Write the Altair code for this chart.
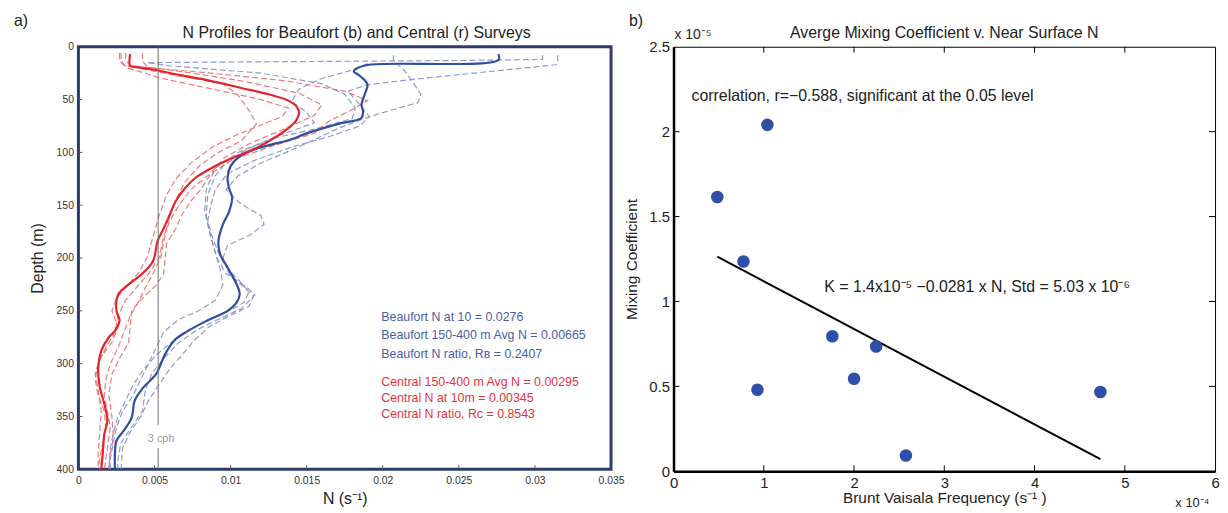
import altair as alt
import pandas as pd

# ---------------- Panel a) : N profiles ----------------
BEAUFORT_MEAN_DEPTH = [7, 12.5, 17, 20.5, 23.5, 26.5, 31.5, 36, 45.5, 55, 61, 67.5, 72.5, 82, 88, 97, 105, 113, 124, 134,
                       143, 156, 168, 184, 196, 209, 225, 234, 242, 250, 259, 269, 278, 291, 310, 322, 335, 351, 363, 373,
                       385, 400]
BEAUFORT_MEAN_N = [0.0276, 0.0276, 0.0191, 0.0183, 0.0181, 0.0184, 0.0188, 0.0190, 0.0188, 0.0186, 0.0187, 0.0186,
                   0.0172, 0.0150, 0.0139, 0.0116, 0.0105, 0.0100, 0.0098, 0.0099, 0.0101, 0.0099, 0.0095, 0.0092,
                   0.0093, 0.0098, 0.0104, 0.0106, 0.0104, 0.0098, 0.0085, 0.0072, 0.0063, 0.0057, 0.0051, 0.0043,
                   0.0037, 0.0035, 0.0030, 0.0025, 0.0024, 0.0024]

CENTRAL_MEAN_DEPTH = [7, 18, 19, 22, 26, 32, 39, 45, 51, 56, 62, 70, 77, 86, 95, 102, 108, 116, 124, 134,
                      146, 159, 172, 184, 203, 216, 225, 235, 250, 259, 269, 275, 288, 304, 322, 338, 354, 367, 385, 400]
CENTRAL_MEAN_N = [0.0034, 0.0034, 0.0038, 0.0051, 0.0064, 0.0086, 0.0107, 0.0125, 0.0138, 0.0143, 0.0145, 0.0143,
                  0.0138, 0.0129, 0.0118, 0.0107, 0.0097, 0.0086, 0.0077, 0.0070, 0.0064, 0.0060, 0.0056, 0.0052,
                  0.0049, 0.0041, 0.0033, 0.0026, 0.0025, 0.0027, 0.0024, 0.0020, 0.0015, 0.0013, 0.0014, 0.0017,
                  0.0019, 0.0017, 0.0016, 0.0015]

# individual casts: (depth m, N s^-1)
BEAUFORT_CASTS = {
    "B1": [(8, 0.0207), (13, 0.0207), (22, 0.0214), (34, 0.0220), (45, 0.0225), (53, 0.0223), (61, 0.0203),
           (67, 0.0190), (77, 0.0171), (86, 0.0158), (99, 0.0138), (110, 0.0120), (122, 0.0105), (135, 0.0097),
           (148, 0.0106), (160, 0.0120), (168, 0.0122), (178, 0.0113), (188, 0.0098), (200, 0.0095), (215, 0.0099),
           (228, 0.0109), (236, 0.0115), (246, 0.0112), (255, 0.0099), (265, 0.0086), (278, 0.0076), (292, 0.0068),
           (305, 0.0060), (320, 0.0053), (335, 0.0046), (350, 0.0041), (365, 0.0034), (380, 0.0029), (400, 0.0028)],
    "B2": [(8, 0.0315), (13, 0.0315), (17, 0.0314), (31, 0.0219), (36, 0.0190), (42, 0.0177), (55, 0.0185),
           (66, 0.0191), (75, 0.0185), (85, 0.0165), (95, 0.0140), (108, 0.0115), (120, 0.0098), (135, 0.0090),
           (150, 0.0087), (165, 0.0085), (180, 0.0088), (195, 0.0092), (210, 0.0098), (222, 0.0106), (232, 0.0112),
           (242, 0.0109), (250, 0.0099), (258, 0.0086), (268, 0.0073), (280, 0.0061), (292, 0.0051), (305, 0.0043),
           (320, 0.0036), (335, 0.0031), (350, 0.0026), (365, 0.0023), (380, 0.0021), (400, 0.0020)],
    "B3": [(8, 0.0305), (12, 0.0305), (13, 0.0250), (15, 0.0045), (18, 0.0060), (25, 0.0120), (35, 0.0160),
           (45, 0.0175), (58, 0.0182), (68, 0.0180), (78, 0.0155), (86, 0.0130), (96, 0.0112), (108, 0.0098),
           (122, 0.0090), (140, 0.0085), (160, 0.0084), (180, 0.0087), (200, 0.0091), (215, 0.0097), (228, 0.0111),
           (235, 0.0116), (248, 0.0107), (258, 0.0092), (268, 0.0078), (280, 0.0066), (295, 0.0056), (310, 0.0048),
           (325, 0.0044), (345, 0.0042), (360, 0.0035), (375, 0.0028), (390, 0.0026), (400, 0.0026)],
    "B4": [(16, 0.0190), (22, 0.0180), (30, 0.0160), (40, 0.0145), (52, 0.0140), (62, 0.0150), (72, 0.0155),
           (85, 0.0130), (100, 0.0105), (115, 0.0090), (135, 0.0084), (155, 0.0083), (175, 0.0086), (195, 0.0090),
           (210, 0.0093), (225, 0.0095), (240, 0.0090), (250, 0.0079), (258, 0.0066), (270, 0.0056), (285, 0.0051),
           (300, 0.0046), (315, 0.0041), (330, 0.0036), (345, 0.0029), (360, 0.0025), (375, 0.0023), (390, 0.0021),
           (400, 0.0021)],
}
CENTRAL_CASTS = {
    "C1": [(6, 0.0027), (13, 0.0027), (18, 0.0030), (24, 0.0080), (32, 0.0135), (42, 0.0175), (51, 0.0190),
           (61, 0.0178), (70, 0.0165), (82, 0.0155), (95, 0.0125), (108, 0.0100), (122, 0.0085), (135, 0.0074),
           (150, 0.0066), (165, 0.0060), (180, 0.0056), (200, 0.0053), (215, 0.0046), (228, 0.0038), (240, 0.0031),
           (255, 0.0026), (270, 0.0024), (285, 0.0018), (300, 0.0013), (315, 0.0011), (330, 0.0013), (345, 0.0017),
           (360, 0.0018), (375, 0.0016), (390, 0.0014), (400, 0.0014)],
    "C2": [(6, 0.0031), (13, 0.0031), (19, 0.0035), (26, 0.0060), (35, 0.0095), (46, 0.0105), (60, 0.0112),
           (73, 0.0117), (89, 0.0107), (100, 0.0092), (112, 0.0080), (128, 0.0070), (145, 0.0064), (165, 0.0059),
           (185, 0.0056), (200, 0.0054), (215, 0.0049), (228, 0.0044), (240, 0.0040), (255, 0.0034), (270, 0.0030),
           (285, 0.0026), (300, 0.0021), (315, 0.0018), (330, 0.0017), (345, 0.0019), (360, 0.0021), (380, 0.0019),
           (400, 0.0017)],
    "C3": [(6, 0.0042), (13, 0.0042), (19, 0.0045), (25, 0.0075), (33, 0.0110), (44, 0.0145), (55, 0.0160),
           (65, 0.0155), (78, 0.0135), (92, 0.0112), (105, 0.0096), (118, 0.0088), (134, 0.0081), (146, 0.0074),
           (159, 0.0068), (172, 0.0064), (186, 0.0058), (200, 0.0057), (215, 0.0056), (226, 0.0051), (238, 0.0042),
           (250, 0.0035), (265, 0.0034), (280, 0.0033), (295, 0.0027), (310, 0.0022), (330, 0.0020), (350, 0.0022),
           (370, 0.0023), (385, 0.0021), (400, 0.0020)],
    "C4": [(6, 0.0028), (13, 0.0028), (20, 0.0032), (30, 0.0055), (40, 0.0088), (50, 0.0120), (58, 0.0138),
           (66, 0.0134), (74, 0.0120), (84, 0.0103), (95, 0.0088), (110, 0.0074), (125, 0.0064), (140, 0.0058),
           (160, 0.0053), (180, 0.0049), (200, 0.0045), (215, 0.0039), (228, 0.0031), (238, 0.0025), (250, 0.0022),
           (265, 0.0026), (280, 0.0022), (295, 0.0014), (310, 0.0011), (325, 0.0013), (345, 0.0015), (365, 0.0014),
           (385, 0.0013), (400, 0.0013)],
}

CPH3_N = 0.00524
CPH3_SEGMENTS = [(0, 358), (380, 400)]
CPH3_LABEL_DEPTH = 371

N_TICKS = [0, 0.005, 0.01, 0.015, 0.02, 0.025, 0.03, 0.035]
DEPTH_TICKS = [0, 50, 100, 150, 200, 250, 300, 350, 400]

NOTE_N = 0.0199
BEAUFORT_NOTES = ["Beaufort N at 10 = 0.0276", "Beaufort 150-400 m Avg N = 0.00665", "Beaufort N ratio, R\u0299 = 0.2407"]
BEAUFORT_NOTE_DEPTHS = [256, 273, 291]
CENTRAL_NOTES = ["Central 150-400 m Avg N = 0.00295", "Central N at 10m = 0.00345", "Central N ratio, R\u1d04 = 0.8543"]
CENTRAL_NOTE_DEPTHS = [317, 333, 348]

TITLE_A = "N Profiles for Beaufort (b) and Central (r) Surveys"
TITLE_B = "Averge Mixing Coefficient v. Near Surface N"

# ---------------- Panel b) : mixing vs N ----------------
BV_FREQ = [0.485, 1.04, 0.775, 0.93, 1.76, 2.0, 2.245, 2.575, 4.73]      # x 1e-4 s^-1
MIX_COEF = [1.615, 2.04, 1.235, 0.48, 0.795, 0.545, 0.735, 0.093, 0.467]  # x 1e-5
FIT_X = [0.485, 4.73]
FIT_Y = [1.264, 0.071]
BV_TICKS = [0, 1, 2, 3, 4, 5, 6]
MIX_TICKS = [0, 0.5, 1, 1.5, 2, 2.5]

FONT = "Liberation Sans"
NAVY = "#2b3b6b"
BLUE = "#2f4da0"
BLUE_D = "#8290c8"
RED = "#e5232a"
RED_D = "#ee6a6a"

# ---------- build tables ----------
cast_rows = []
for region, casts in (("Beaufort", BEAUFORT_CASTS), ("Central", CENTRAL_CASTS)):
    for name, pts in casts.items():
        for i, (d, n) in enumerate(pts):
            cast_rows.append({"region": region, "cast": name, "depth": d, "N": n, "i": i})
casts_df = pd.DataFrame(cast_rows)

mean_rows = []
for region, ds, ns in (("Beaufort", BEAUFORT_MEAN_DEPTH, BEAUFORT_MEAN_N),
                       ("Central", CENTRAL_MEAN_DEPTH, CENTRAL_MEAN_N)):
    for i, (d, n) in enumerate(zip(ds, ns)):
        mean_rows.append({"survey": region, "depth": d, "N": n, "i": i})
mean_df = pd.DataFrame(mean_rows)

cph_df = pd.DataFrame([{"N": CPH3_N, "d0": a, "d1": b} for a, b in CPH3_SEGMENTS])
cph_lab = pd.DataFrame([{"N": CPH3_N, "depth": CPH3_LABEL_DEPTH, "t": "3 cph"}])
notes_df = pd.DataFrame(
    [{"N": NOTE_N, "depth": d, "t": t, "group": "Beaufort"} for t, d in zip(BEAUFORT_NOTES, BEAUFORT_NOTE_DEPTHS)]
    + [{"N": NOTE_N, "depth": d, "t": t, "group": "Central"} for t, d in zip(CENTRAL_NOTES, CENTRAL_NOTE_DEPTHS)]
)

W_A, H_A = 537, 426
W_B, H_B = 546, 428


def label(text, x, y, size=16, align="left", baseline="middle", color="#222"):
    return alt.Chart(pd.DataFrame({"t": [text]})).mark_text(
        fontSize=size, font=FONT, align=align, baseline=baseline, color=color).encode(
        text="t:N", x=alt.value(x), y=alt.value(y))


xa = alt.X("N:Q", scale=alt.Scale(domain=[0, 0.035], nice=False, zero=False),
           axis=alt.Axis(values=N_TICKS, labelExpr="datum.value == 0 ? '0' : format(datum.value, '.3~f')",
                         title="N (s\u207b\u00b9)", domain=False, ticks=False, tickSize=0, grid=False,
                         labelPadding=6, labelFontSize=10.5, labelColor="#333", labelFont=FONT,
                         labelFlush=False, labelOverlap=False,
                         titleFont=FONT, titleFontSize=16, titleFontWeight="normal", titleColor="#222",
                         titlePadding=5))
ya = alt.Y("depth:Q", scale=alt.Scale(domain=[0, 400], reverse=True, nice=False, zero=False),
           axis=alt.Axis(values=DEPTH_TICKS, title="Depth (m)", domain=False, ticks=False, tickSize=0, grid=False,
                         labelPadding=5, labelFontSize=10.5, labelColor="#333", labelFont=FONT,
                         labelFlush=False, labelOverlap=False,
                         titleFont=FONT, titleFontSize=16, titleFontWeight="normal", titleColor="#222",
                         titlePadding=11))

dashed = alt.Chart(casts_df).mark_line(strokeDash=[6, 3], strokeWidth=1.2, opacity=0.9).encode(
    x=xa, y=ya,
    color=alt.Color("region:N", scale=alt.Scale(domain=["Beaufort", "Central"], range=[BLUE_D, RED_D]),
                    legend=None),
    detail="cast:N", order="i:Q")
solid = alt.Chart(mean_df).mark_line(strokeWidth=2.2, interpolate="catmull-rom").encode(
    x="N:Q", y="depth:Q",
    color=alt.Color("survey:N", scale=alt.Scale(domain=["Beaufort", "Central"], range=[BLUE, RED]), legend=None),
    order="i:Q")
cph_rule = alt.Chart(cph_df).mark_rule(color="#6e6e6e", strokeWidth=1).encode(
    x="N:Q", y="d0:Q", y2="d1:Q")
cph_text = alt.Chart(cph_lab).mark_text(color="#9a9a9a", fontSize=11, font=FONT, align="center",
                                        baseline="middle", dx=3).encode(x="N:Q", y="depth:Q", text="t:N")
notes_text = alt.Chart(notes_df).mark_text(fontSize=12.5, font=FONT, align="left", baseline="middle").encode(
    x="N:Q", y="depth:Q", text="t:N",
    color=alt.Color("group:N", scale=alt.Scale(domain=["Beaufort", "Central"], range=["#4a5ea8", "#e8333a"]),
                    legend=None))
xt_a = pd.DataFrame({"v": N_TICKS[1:-1]})
yt_a = pd.DataFrame({"v": DEPTH_TICKS[1:-1]})
ticks_a_bottom = alt.Chart(xt_a).mark_rule(color="#555", strokeWidth=1).encode(
    x="v:Q", y=alt.value(H_A), y2=alt.value(H_A - 4))
ticks_a_left = alt.Chart(yt_a).mark_rule(color="#555", strokeWidth=1).encode(
    y="v:Q", x=alt.value(0), x2=alt.value(4))

panel_a = alt.layer(
    dashed, solid, cph_rule, cph_text, notes_text, ticks_a_bottom, ticks_a_left,
    label("a)", -65, -26),
    label(TITLE_A, W_A / 2 + 12, -9, size=16, align="center", baseline="alphabetic"),
).resolve_scale(color="independent").properties(
    width=W_A, height=H_A,
    view=alt.ViewBackground(stroke=NAVY, strokeWidth=3),
)

# ---------- panel b ----------
pts_df = pd.DataFrame({"f": BV_FREQ, "k": MIX_COEF})
fit_df = pd.DataFrame({"f": FIT_X, "k": FIT_Y})

xb = alt.X("f:Q", scale=alt.Scale(domain=[0, 6], nice=False, zero=False),
           axis=alt.Axis(values=BV_TICKS, format="~g", title="Brunt Vaisala Frequency (s\u207b\u00b9 )",
                         domain=True, domainColor="black", domainWidth=2.5, ticks=False, tickSize=0, grid=False,
                         labelPadding=4, labelFontSize=15, labelColor="#222", labelFont=FONT,
                         labelFlush=False, labelOverlap=False,
                         titleFont=FONT, titleFontSize=15.5, titleFontWeight="normal", titleColor="#222",
                         titlePadding=0))
yb = alt.Y("k:Q", scale=alt.Scale(domain=[0, 2.5], nice=False, zero=False),
           axis=alt.Axis(values=MIX_TICKS, format="~g", title="Mixing Coefficient",
                         domain=True, domainColor="black", domainWidth=2.5, ticks=False, tickSize=0, grid=False,
                         labelPadding=4, labelFontSize=15, labelColor="#222", labelFont=FONT,
                         labelFlush=False, labelOverlap=False,
                         titleFont=FONT, titleFontSize=15.5, titleFontWeight="normal", titleColor="#222",
                         titlePadding=9))

points = alt.Chart(pts_df).mark_circle(size=160, color="#2f4fa8", opacity=1).encode(x=xb, y=yb)
fit = alt.Chart(fit_df).mark_line(color="black", strokeWidth=2).encode(x="f:Q", y="k:Q")
ann_df = pd.DataFrame([
    {"f": 0.2, "k": 2.21, "t": "correlation, r=\u22120.588, significant at the 0.05 level"},
    {"f": 1.67, "k": 1.086, "t": "K = 1.4x10\u207b\u2075 \u22120.0281 x N,  Std = 5.03 x 10\u207b\u2076"},
])
ann = alt.Chart(ann_df).mark_text(fontSize=16, font=FONT, align="left", baseline="middle", color="#222").encode(
    x="f:Q", y="k:Q", text="t:N")
xt_b = pd.DataFrame({"v": BV_TICKS[1:-1]})
yt_b = pd.DataFrame({"v": MIX_TICKS[1:-1]})
tb_top = alt.Chart(xt_b).mark_rule(color="black", strokeWidth=1).encode(x="v:Q", y=alt.value(0), y2=alt.value(6))
tb_bot = alt.Chart(xt_b).mark_rule(color="black", strokeWidth=1).encode(x="v:Q", y=alt.value(H_B), y2=alt.value(H_B - 6))
tb_left = alt.Chart(yt_b).mark_rule(color="black", strokeWidth=1).encode(y="v:Q", x=alt.value(0), x2=alt.value(6))
tb_right = alt.Chart(yt_b).mark_rule(color="black", strokeWidth=1).encode(y="v:Q", x=alt.value(W_B), x2=alt.value(W_B - 6))

panel_b = alt.layer(
    fit, points, ann, tb_top, tb_bot, tb_left, tb_right,
    label("b)", -45, -26),
    label("x 10\u207b\u2075", 1, -12, size=14),
    label("x 10\u207b\u2074", 506, H_B + 32, size=13),
    label(TITLE_B, W_B / 2, -9, size=16, align="center", baseline="alphabetic"),
).properties(
    width=W_B, height=H_B,
    view=alt.ViewBackground(stroke="black", strokeWidth=1),
)

chart = alt.hconcat(panel_a, panel_b, spacing=63, bounds="flush").properties(
    padding={"left": 4, "top": 1, "right": 0, "bottom": 0}
).configure(font=FONT)

chart.save("out.html", embed_options={"renderer": "svg", "actions": False})
